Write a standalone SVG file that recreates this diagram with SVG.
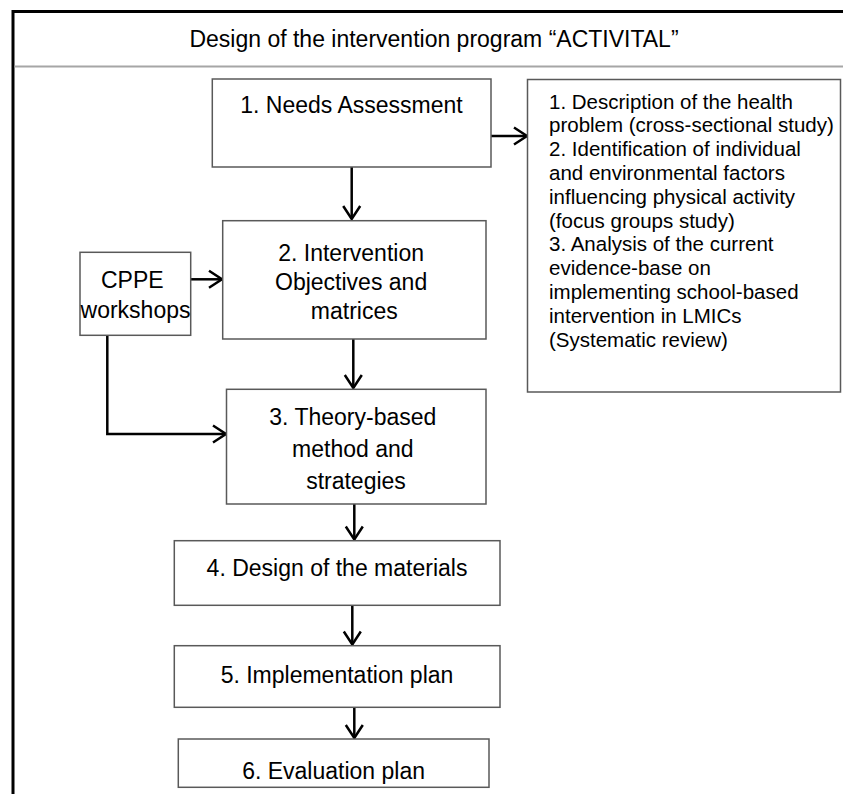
<svg xmlns="http://www.w3.org/2000/svg" width="843" height="794" viewBox="0 0 843 794">
  <style>
    .box { fill: #ffffff; stroke: #595959; stroke-width: 1.5; }
    .lbl { font-family: "Liberation Sans", Arial, sans-serif; font-size: 23px; fill: #000000; text-anchor: middle; }
    .note { font-family: "Liberation Sans", Arial, sans-serif; font-size: 20.5px; fill: #000000; }
    .link { fill: none; stroke: #000000; stroke-width: 2.5; marker-end: url(#arrow); }
  </style>
  <defs>
    <marker id="arrow" markerUnits="userSpaceOnUse" markerWidth="20" markerHeight="20" viewBox="-16 -10 18 20" refX="0" refY="0" orient="auto">
      <path d="M -13 -8.5 L 0 0 L -13 8.5" fill="none" stroke="#000000" stroke-width="2.5"/>
    </marker>
  </defs>

  <rect width="843" height="794" fill="#ffffff"/>

  <!-- outer frame (runs off the right and bottom edges) and title band -->
  <g id="frame">
    <path d="M 13 794 V 11.5 H 843" fill="none" stroke="#000000" stroke-width="3"/>
    <line x1="14.5" y1="66.5" x2="843" y2="66.5" stroke="#a6a6a6" stroke-width="2"/>
    <text x="434" y="46.5" class="lbl" font-size="23.8">Design of the intervention program “ACTIVITAL”</text>
  </g>

  <!-- connectors -->
  <g id="connectors">
    <line class="link" x1="491" y1="136" x2="527" y2="136"/>
    <line class="link" x1="351.7" y1="167" x2="351.7" y2="219"/>
    <line class="link" x1="190.7" y1="279.3" x2="222" y2="279.3"/>
    <line class="link" x1="353.3" y1="339" x2="353.3" y2="388"/>
    <path class="link" d="M 107.3 335.3 V 434 H 226"/>
    <line class="link" x1="354.3" y1="504" x2="354.3" y2="539.5"/>
    <line class="link" x1="352.3" y1="605.3" x2="352.3" y2="644.5"/>
    <line class="link" x1="354.3" y1="707.3" x2="354.3" y2="738"/>
  </g>

  <g id="needs-assessment">
    <rect class="box" x="212.3" y="79" width="278.7" height="88"/>
    <text class="lbl" x="351.5" y="113">1. Needs Assessment</text>
  </g>

  <g id="needs-details">
    <rect class="box" x="527.5" y="79.5" width="313" height="312.5"/>
    <text class="note" x="549">
      <tspan x="549" y="108.5">1. Description of the health</tspan>
      <tspan x="549" y="132.3">problem (cross-sectional study)</tspan>
      <tspan x="549" y="156.1">2. Identification of individual</tspan>
      <tspan x="549" y="179.9">and environmental factors</tspan>
      <tspan x="549" y="203.7">influencing physical activity</tspan>
      <tspan x="549" y="227.5">(focus groups study)</tspan>
      <tspan x="549" y="251.3">3. Analysis of the current</tspan>
      <tspan x="549" y="275.1">evidence-base on</tspan>
      <tspan x="549" y="298.9">implementing school-based</tspan>
      <tspan x="549" y="322.7">intervention in LMICs</tspan>
      <tspan x="549" y="346.5">(Systematic review)</tspan>
    </text>
  </g>

  <g id="cppe-workshops">
    <rect class="box" x="80" y="252.3" width="110.7" height="83"/>
    <text class="lbl">
      <tspan x="135.5" y="288">CPPE</tspan>
      <tspan x="135.5" y="318">workshops</tspan>
    </text>
  </g>

  <g id="objectives">
    <rect class="box" x="222.7" y="220.7" width="263.3" height="118.3"/>
    <text class="lbl">
      <tspan x="354.3" y="261">2. Intervention</tspan>
      <tspan x="354.3" y="290">Objectives and</tspan>
      <tspan x="354.3" y="319">matrices</tspan>
    </text>
  </g>

  <g id="methods">
    <rect class="box" x="226.5" y="389.3" width="259.5" height="114.7"/>
    <text class="lbl">
      <tspan x="356" y="425">3. Theory-based</tspan>
      <tspan x="356" y="457">method and</tspan>
      <tspan x="356" y="488.5">strategies</tspan>
    </text>
  </g>

  <g id="materials">
    <rect class="box" x="174.3" y="540.7" width="325.7" height="64.6"/>
    <text class="lbl" x="337" y="576">4. Design of the materials</text>
  </g>

  <g id="implementation">
    <rect class="box" x="174.3" y="645.7" width="325.7" height="61.6"/>
    <text class="lbl" x="337" y="682.5">5. Implementation plan</text>
  </g>

  <g id="evaluation">
    <rect class="box" x="178.3" y="739" width="310.7" height="48.3"/>
    <text class="lbl" x="333.6" y="779">6. Evaluation plan</text>
  </g>
</svg>
